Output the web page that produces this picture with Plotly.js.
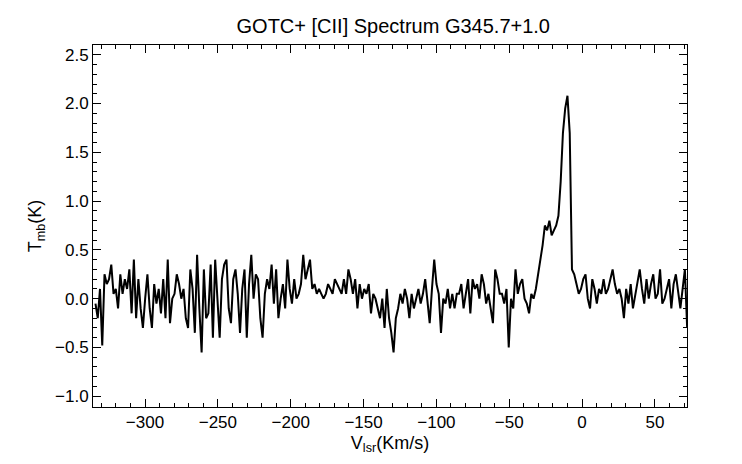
<!DOCTYPE html>
<html>
<head>
<meta charset="utf-8">
<script src="https://cdn.plot.ly/plotly-3.0.1.min.js"></script>
<style>body{margin:0;background:#fff}</style>
</head>
<body>
<div id="plot" style="width:742px;height:464px"></div>
<script>
// velocity channels, km/s
const vStart = -334
const vStep = 1.55
// brightness temperature, K
const tmb = [
  -0.05, -0.2, 0.1, -0.48, 0.25, 0.15, 0.2, 0.35, 0.05, 0.1,
  -0.1, 0.25, 0.05, 0.2, 0.1, 0.3, -0.15, 0.4, -0.2, 0.2,
  -0.1, -0.3, 0.0, 0.25, -0.1, -0.3, 0.15, -0.05, 0.1, -0.15,
  0.2, -0.2, 0.4, -0.25, 0.0, 0.05, 0.25, 0.15, 0.0, 0.1,
  -0.2, -0.3, 0.3, 0.1, -0.35, 0.45, -0.1, -0.55, 0.3, -0.2,
  -0.15, 0.35, -0.4, 0.4, 0.0, -0.4, 0.2, 0.35, 0.4, -0.1,
  -0.25, 0.2, 0.3, 0.05, -0.35, 0.1, 0.3, -0.4, 0.15, 0.45,
  0.0, 0.25, 0.2, -0.2, -0.4, 0.05, 0.2, 0.1, 0.35, -0.05,
  0.3, -0.2, 0.0, 0.15, -0.1, 0.4, 0.1, -0.05, 0.2, 0.0,
  0.05, 0.15, 0.45, 0.2, 0.3, 0.4, 0.1, 0.15, 0.05, 0.1,
  0.05, 0.0, 0.05, 0.15, 0.1, 0.05, 0.2, 0.15, 0.1, 0.05,
  0.2, 0.05, 0.3, 0.2, 0.05, 0.2, -0.1, 0.15, 0.0, 0.1,
  0.05, 0.15, -0.15, 0.05, 0.0, -0.1, -0.2, 0.0, -0.3, 0.1,
  -0.2, -0.35, -0.55, -0.2, -0.1, 0.05, -0.05, 0.1, 0.0, -0.2,
  0.05, -0.1, 0.0, 0.1, -0.05, 0.05, 0.2, 0.0, -0.25, 0.1,
  0.4, 0.15, 0.05, -0.35, 0.0, -0.05, 0.1, -0.1, 0.05, -0.1,
  0.05, 0.05, 0.15, -0.1, 0.05, 0.2, -0.15, 0.2, 0.1, 0.15,
  0.0, 0.25, 0.15, -0.05, 0.05, -0.1, -0.25, 0.3, 0.2, 0.05,
  0.05, -0.05, 0.1, -0.5, 0.0, -0.1, 0.3, 0.05, 0.15, 0.2,
  0.0, -0.05, -0.15, 0.05, 0.0, 0.1, 0.25, 0.4, 0.55, 0.75,
  0.7, 0.8, 0.65, 0.7, 0.75, 0.85, 1.2, 1.7, 1.95, 2.08,
  1.7, 0.3, 0.25, 0.15, 0.05, 0.1, 0.2, 0.25, 0.0, -0.1,
  0.2, 0.1, -0.05, 0.1, 0.05, 0.2, 0.05, 0.1, 0.2, 0.3,
  0.15, 0.05, 0.1, 0.0, -0.2, 0.1, -0.05, 0.15, -0.1, 0.05,
  0.2, 0.3, 0.1, -0.05, 0.2, 0.0, 0.15, 0.25, 0.0, 0.05,
  0.3, -0.05, 0.0, 0.1, 0.2, -0.1, 0.15, 0.25, 0.05, -0.1,
  0.1, 0.3, -0.3
]
const vel = tmb.map((_, i) => vStart + i*vStep)

const axisCommon = {
  showgrid: false, zeroline: false, showline: true, mirror: 'ticks',
  linecolor: '#000', linewidth: 1, ticks: 'inside', tickcolor: '#000',
  ticklen: 8, tickfont: {size: 17, color: '#000'}
}

Plotly.newPlot('plot', [{
  x: vel, y: tmb, type: 'scatter', mode: 'lines',
  line: {color: '#000', width: 2}
}], {
  width: 742, height: 464,
  margin: {l: 93, r: 55, t: 45, b: 57},
  paper_bgcolor: '#fff', plot_bgcolor: '#fff',
  font: {family: 'Liberation Sans, Arial, sans-serif', color: '#000'},
  title: {text: 'GOTC+ [CII] Spectrum G345.7+1.0', font: {size: 20, color: '#000'}, x: 0.53, y: 0.96},
  showlegend: false,
  xaxis: Object.assign({}, axisCommon, {
    range: [-335.7, 72], dtick: 50,
    minor: {ticks: 'inside', ticklen: 4, dtick: 10, tickcolor: '#000'},
    title: {text: 'V<sub>lsr</sub>(Km/s)', font: {size: 18, color: '#000'}, standoff: 4}
  }),
  yaxis: Object.assign({}, axisCommon, {
    range: [-1.11, 2.6], dtick: 0.5, tickformat: '.1f',
    minor: {ticks: 'inside', ticklen: 4, dtick: 0.1, tickcolor: '#000'},
    title: {text: 'T<sub>mb</sub>(K)', font: {size: 18, color: '#000'}, standoff: 8}
  })
}, {displayModeBar: false})
</script>
</body>
</html>
